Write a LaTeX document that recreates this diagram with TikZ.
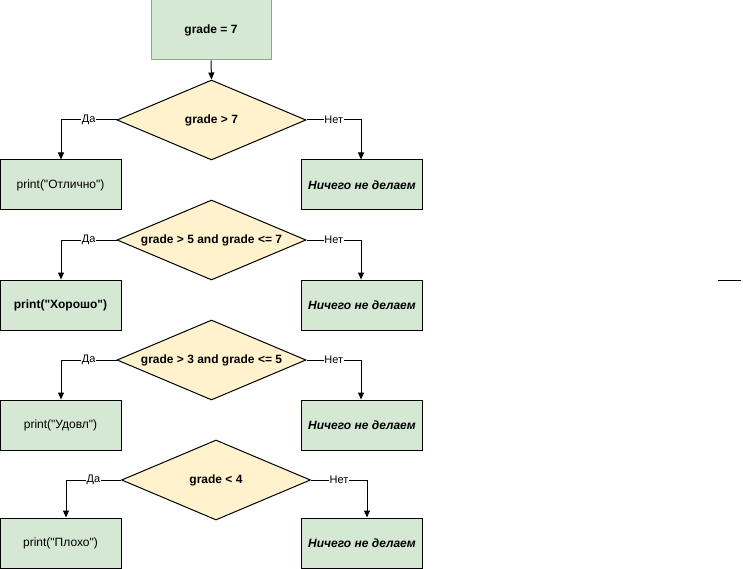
\documentclass[tikz,border=0pt]{standalone}
\usepackage{fontspec}
\setmainfont{Liberation Sans}
\usetikzlibrary{shapes.geometric,arrows.meta}
\definecolor{boxfill}{HTML}{D5E8D4}
\definecolor{boxline}{HTML}{82B366}
\definecolor{decfill}{HTML}{FFF2CC}
\newcommand{\sq}{\textquotedbl}
\tikzset{
  procbox/.style={draw=black, fill=boxfill, line width=1pt, minimum width=121pt, minimum height=50pt, inner sep=0pt, font=\fontsize{12}{14}\selectfont},
  startbox/.style={procbox, draw=boxline, minimum width=120pt, minimum height=60pt, font=\bfseries\fontsize{12}{14}\selectfont},
  decision/.style={diamond, draw=black, fill=decfill, line width=1pt, aspect=2.36, minimum width=189pt, minimum height=80pt, inner sep=0pt, font=\bfseries\fontsize{12}{14}\selectfont},
  flow/.style={draw=black, line width=1pt, -{Triangle[length=7pt,width=6pt]}},
  lbl/.style={fill=white, inner sep=0.8pt, font=\fontsize{11}{13}\selectfont},
  nothing/.style={procbox, font=\bfseries\itshape\fontsize{12}{14}\selectfont}
}
\begin{document}
\begin{tikzpicture}[x=1pt,y=-1pt]
\useasboundingbox (0,0) rectangle (743,569);

% start
\node[startbox] (init) at (211,30) {grade = 7};

% decisions
\node[decision] (d1) at (211.5,120) {grade > 7};
\node[decision] (d2) at (211.5,240) {grade > 5 and grade <= 7};
\node[decision] (d3) at (211.5,360) {grade > 3 and grade <= 5};
\node[decision] (d4) at (216,480) {grade < 4};

% actions, "yes" side
\node[procbox] (y1) at (60.5,185) {print(\sq Отлично\sq)};
\node[procbox, font=\bfseries\fontsize{12}{14}\selectfont] (y2) at (60.5,305) {print(\sq Хорошо\sq)};
\node[procbox] (y3) at (60.5,425) {print(\sq Удовл\sq)};
\node[procbox] (y4) at (60.5,543) {print(\sq Плохо\sq)};

% actions, "no" side
\node[nothing] (n1) at (362,185) {Ничего не делаем};
\node[nothing] (n2) at (362,305) {Ничего не делаем};
\node[nothing] (n3) at (362,425) {Ничего не делаем};
\node[nothing] (n4) at (362,543) {Ничего не делаем};

% connectors
\draw[flow] (init.south) -- (d1.north);
\foreach \i in {1,2,3} {
  \draw[flow] (d\i.west) -| node[lbl, pos=0.25] {Да} ([xshift=0.5pt]y\i.north);
  \draw[flow] (d\i.east) -| node[lbl, pos=0.25] {Нет} ([xshift=-1pt]n\i.north);
}
\draw[flow] (d4.west) -| node[lbl, pos=0.25] {Да} ([xshift=5.5pt]y4.north);
\draw[flow] (d4.east) -| node[lbl, pos=0.25] {Нет} ([xshift=5pt]n4.north);

% short loose segment on the right
\coordinate (s1) at (718,280);
\coordinate (s2) at (741,280);
\draw[line width=1pt] (s1) -- (s2);
\end{tikzpicture}
\end{document}
